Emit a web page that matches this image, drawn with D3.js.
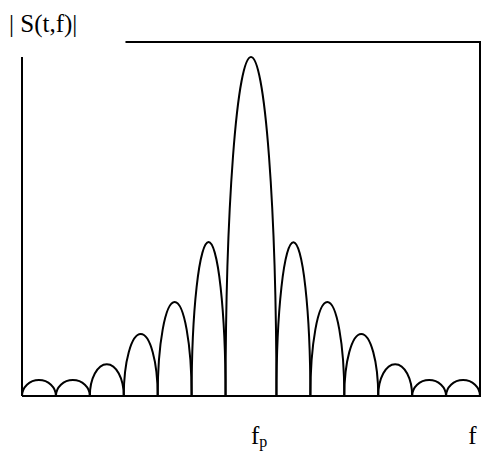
<!DOCTYPE html>
<html>
<head>
<meta charset="utf-8">
<script src="https://cdn.jsdelivr.net/npm/d3@7"></script>
<style>
  html, body { margin: 0; padding: 0; background: #fff; }
</style>
</head>
<body>
<div id="chart"></div>
<script>
// lobe boundaries along f (fp = 0), in lobe widths
const lobeEdges = [-6.75, -5.75, -4.75, -3.75, -2.75, -1.75, -0.75, 0.75, 1.75, 2.75, 3.75, 4.75, 5.75, 6.75];
// peak magnitude of each lobe, relative to main lobe
const lobePeaks = [0.047, 0.047, 0.094, 0.183, 0.277, 0.454, 1.0, 0.454, 0.277, 0.183, 0.094, 0.047, 0.047];
const xLabels = [{ f: 0, main: 'f', sub: 'p' }, { f: 6.4, main: 'f', sub: '' }];

const width = 481, height = 452;
const serif = '"Liberation Serif", "Times New Roman", Times, "DejaVu Serif", serif';

const svg = d3.select('#chart')
    .append('svg')
    .attr('width', width)
    .attr('height', height);

const xScale = d3.scaleLinear()
    .domain([lobeEdges[0], lobeEdges[lobeEdges.length - 1]])
    .range([22, 480]);

const yScale = d3.scaleLinear()
    .domain([0, 1])
    .range([396, 57]);

// frame: left, bottom, top (partial) and right edges
const frame = svg.append('g')
    .attr('stroke', '#000')
    .attr('stroke-width', 2)
    .attr('fill', 'none');

frame.append('line')
    .attr('x1', xScale(lobeEdges[0])).attr('x2', xScale(lobeEdges[0]))
    .attr('y1', yScale(1)).attr('y2', yScale(0));

frame.append('line')
    .attr('x1', xScale(lobeEdges[0])).attr('x2', width)
    .attr('y1', yScale(0)).attr('y2', yScale(0));

frame.append('line')
    .attr('x1', xScale(-3.7)).attr('x2', width)
    .attr('y1', 42).attr('y2', 42);

frame.append('line')
    .attr('x1', width - 1).attr('x2', width - 1)
    .attr('y1', 42).attr('y2', yScale(0));

// lobes as half-ellipses
svg.append('g')
    .selectAll('path')
    .data(lobePeaks)
    .enter()
    .append('path')
    .attr('d', (p, i) => {
        const x0 = xScale(lobeEdges[i]);
        const x1 = xScale(lobeEdges[i + 1]);
        const y0 = yScale(0);
        const rx = (x1 - x0) / 2;
        const ry = y0 - yScale(p);
        return `M${x0},${y0} A${rx},${ry} 0 0 1 ${x1},${y0}`;
    })
    .attr('fill', 'none')
    .attr('stroke', '#000')
    .attr('stroke-width', 2);

// y label
svg.append('text')
    .attr('x', 9)
    .attr('y', 32)
    .style('font-family', serif)
    .style('font-size', '25px')
    .text('| S(t,f)|');

// x labels
xLabels.forEach(l => {
    const t = svg.append('text')
        .attr('x', xScale(l.f))
        .attr('y', 444)
        .style('font-family', serif)
        .style('font-size', '25px');
    t.append('tspan').text(l.main);
    if (l.sub) {
        t.append('tspan')
            .attr('dy', 3)
            .style('font-size', '16px')
            .text(l.sub);
    }
});
</script>
</body>
</html>
